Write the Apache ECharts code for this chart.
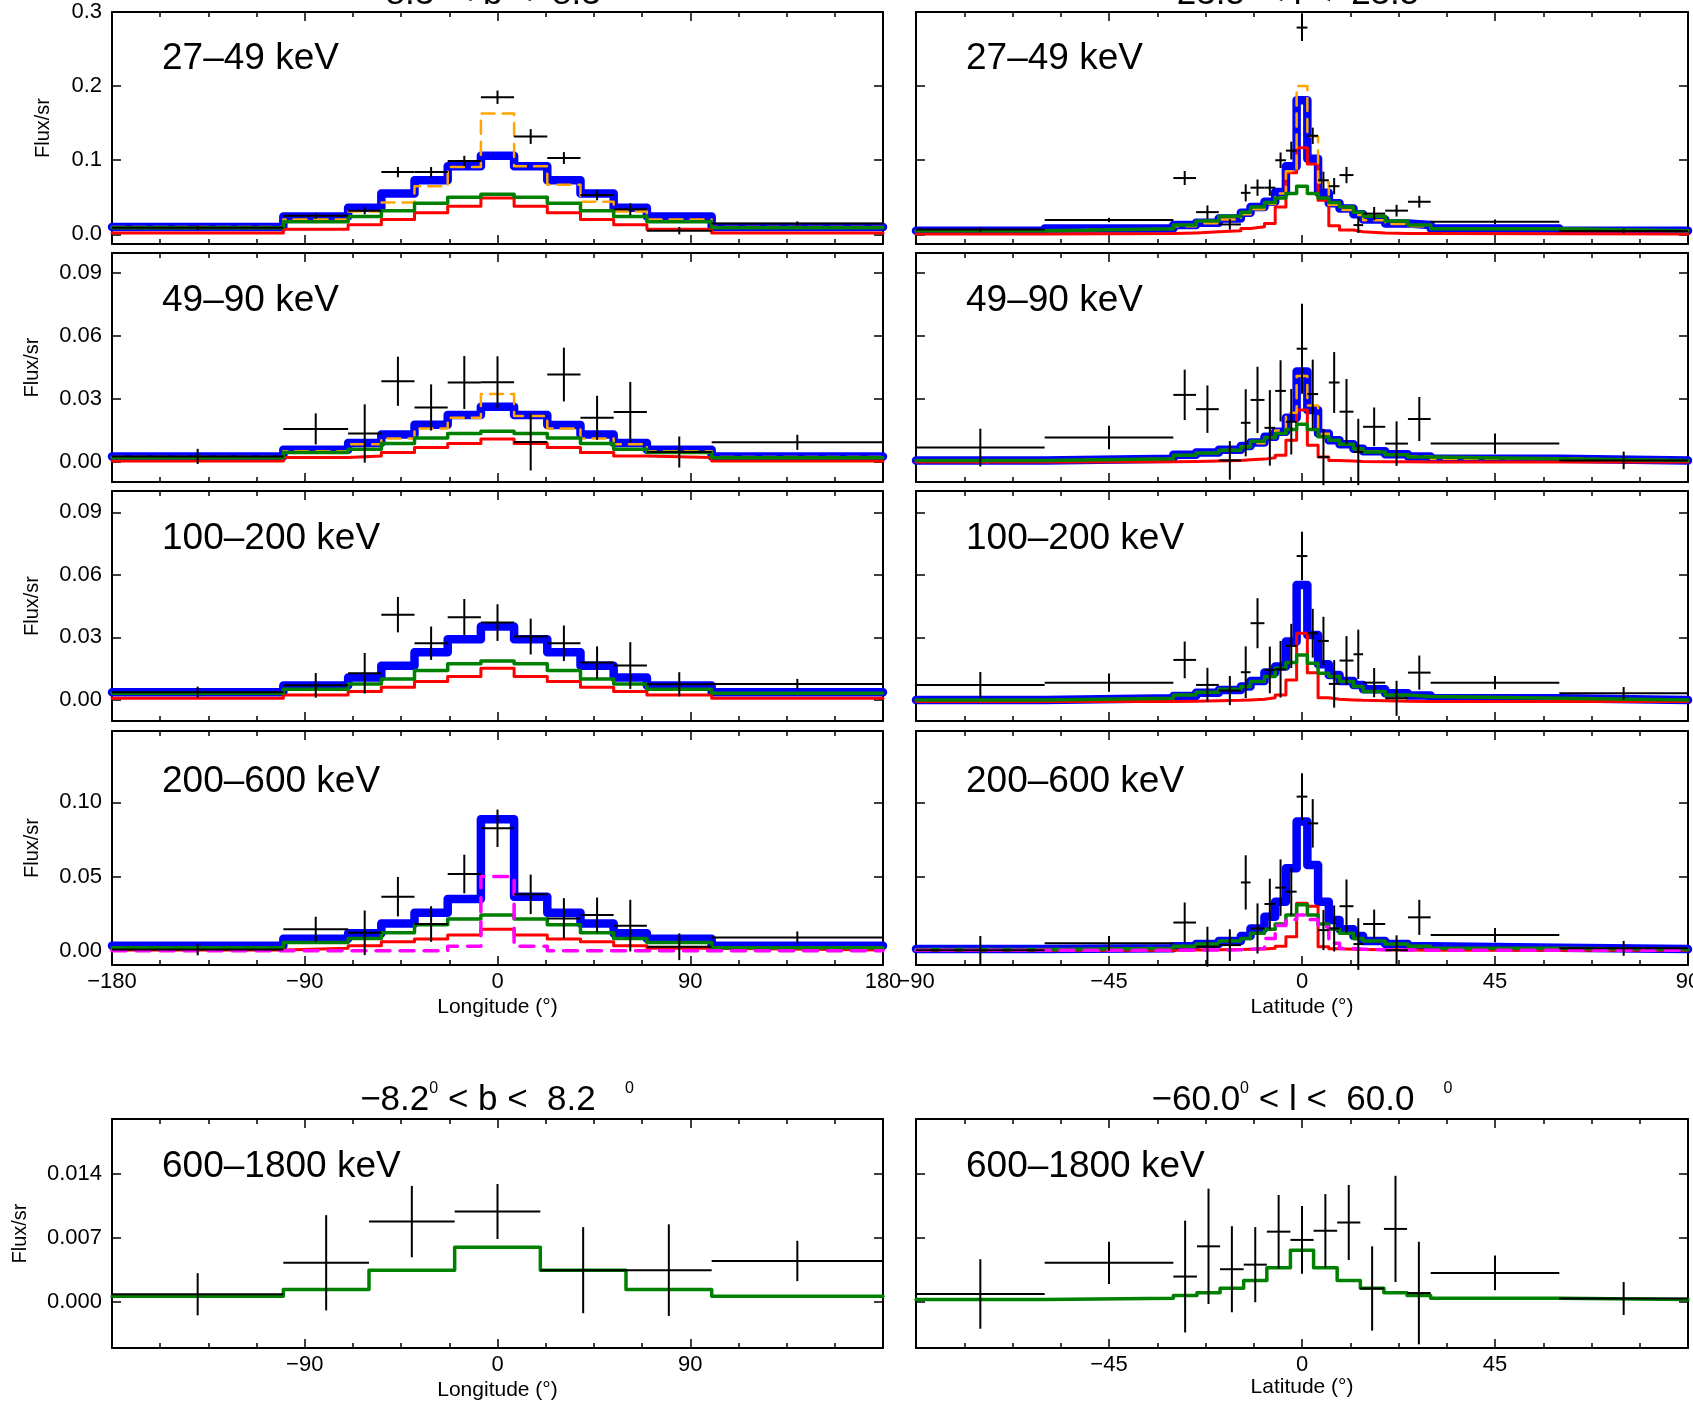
<!DOCTYPE html>
<html><head><meta charset="utf-8">
<script src="https://cdn.jsdelivr.net/npm/echarts@6/dist/echarts.min.js"></script>
<style>html,body{margin:0;padding:0;background:#fff}#c{width:1693px;height:1404px}</style>
</head><body><div id="c"></div>
<script>
// ---- bin edges ----
const lonEdges = [-180,-100,-69.75,-54.25,-38.75,-23.25,-7.75,7.75,23.25,38.75,54.25,69.75,100,180];
const latEdges = [-90,-60,-30,-24.7,-19.4,-14.25,-12,-8.75,-6.25,-3.75,-1.25,1.25,3.75,6.25,8.75,12,14.25,19.4,24.7,30,60,90];
const lonEdgesHi = [-180,-100,-60,-20,20,60,100,180];
const latEdgesHi = [-90,-60,-30,-24.5,-19.1,-13.6,-8.2,-2.7,2.7,8.2,13.6,19.1,24.5,30,60,90];

// ---- 27-49 keV, longitude ----
const lon27Total  = [0.010,0.024,0.036,0.055,0.073,0.092,0.106,0.092,0.073,0.055,0.036,0.024,0.010];
const lon27Orange = [0.010,0.020,0.031,0.043,0.065,0.091,0.163,0.092,0.067,0.044,0.031,0.020,0.010];
const lon27Green  = [0.009,0.017,0.024,0.032,0.042,0.050,0.054,0.050,0.042,0.032,0.024,0.017,0.009];
const lon27Red    = [0.002,0.007,0.013,0.020,0.029,0.038,0.049,0.038,0.029,0.020,0.013,0.007,0.002];
const lon27Flux   = [0.009,0.025,0.032,0.084,0.084,0.099,0.185,0.132,0.103,0.053,0.034,0.005,0.0145];
const lon27Err    = [0.003,0.004,0.005,0.007,0.007,0.007,0.009,0.010,0.008,0.007,0.008,0.005,0.003];
// ---- 49-90 keV, longitude ----
const lon49Total  = [0.0027,0.0059,0.0091,0.0131,0.0178,0.0224,0.0264,0.0224,0.0176,0.0131,0.0091,0.0059,0.0027];
const lon49Orange = [0.0024,0.0051,0.0085,0.0112,0.0160,0.0211,0.0324,0.0219,0.0160,0.0112,0.0085,0.0051,0.0024];
const lon49Green  = [0.0021,0.0045,0.0061,0.0088,0.0115,0.0136,0.0147,0.0136,0.0115,0.0088,0.0061,0.0045,0.0021];
const lon49Red    = [0.0005,0.0022,0.0029,0.0045,0.0069,0.0088,0.0110,0.0088,0.0069,0.0045,0.0029,0.0022,0.0005];
const lon49Flux   = [0.0027,0.0158,0.0136,0.0385,0.0260,0.0379,0.0380,0.0096,0.0417,0.0211,0.0238,0.0048,0.0094];
const lon49Err    = [0.0036,0.0074,0.0139,0.0117,0.0110,0.0126,0.0124,0.0136,0.0128,0.0105,0.0144,0.0074,0.0036];
// ---- 100-200 keV, longitude ----
const lon100Total = [0.0037,0.0069,0.0108,0.0164,0.0229,0.0291,0.0352,0.0291,0.0229,0.0164,0.0108,0.0069,0.0037];
const lon100Green = [0.0032,0.0051,0.0077,0.0101,0.0141,0.0173,0.0187,0.0173,0.0141,0.0101,0.0077,0.0051,0.0032];
const lon100Red   = [0.0008,0.0024,0.0040,0.0061,0.0089,0.0113,0.0152,0.0113,0.0089,0.0061,0.0040,0.0024,0.0008];
const lon100Flux  = [0.0037,0.0070,0.0128,0.0409,0.0272,0.0396,0.0371,0.0304,0.0272,0.0179,0.0165,0.0075,0.0077];
const lon100Err   = [0.0027,0.0059,0.0097,0.0085,0.0080,0.0088,0.0088,0.0086,0.0085,0.0078,0.0112,0.0058,0.0024];
// ---- 200-600 keV, longitude ----
const lon200Total = [0.0034,0.0080,0.0117,0.0184,0.0256,0.0348,0.0885,0.0364,0.0256,0.0184,0.0117,0.0080,0.0034];
const lon200Green = [0.0020,0.0055,0.0083,0.0122,0.0175,0.0213,0.0240,0.0213,0.0175,0.0122,0.0083,0.0055,0.0020];
const lon200Red   = [0.0005,0.0016,0.0034,0.0060,0.0079,0.0106,0.0144,0.0106,0.0079,0.0060,0.0034,0.0016,0.0005];
const lon200Magenta = [0,0,0,0,0,0.003,0.050,0.003,0,0,0,0,0];
const lon200Flux  = [0.0009,0.0144,0.0121,0.0364,0.0180,0.0517,0.0825,0.0380,0.0218,0.0240,0.0169,0.0027,0.0090];
const lon200Err   = [0.0040,0.0085,0.0150,0.0133,0.0120,0.0130,0.0126,0.0133,0.0136,0.0118,0.0174,0.0090,0.0040];
// ---- 600-1800 keV, longitude ----
const lon600Green = [0.00065,0.0014,0.0035,0.0060,0.0035,0.0014,0.00065];
const lon600Flux  = [0.00087,0.0043,0.0088,0.0099,0.0035,0.0035,0.0045];
const lon600Err   = [0.0023,0.0052,0.0039,0.0030,0.0047,0.0050,0.0022];

// ---- 27-49 keV, latitude ----
const lat27Total  = [0.005,0.008,0.0125,0.0157,0.0215,0.029,0.037,0.044,0.057,0.092,0.181,0.102,0.056,0.042,0.035,0.027,0.020,0.0148,0.0125,0.008,0.005];
const lat27Orange = [0.005,0.0075,0.011,0.015,0.020,0.027,0.034,0.041,0.055,0.085,0.200,0.132,0.070,0.040,0.033,0.026,0.019,0.014,0.011,0.0075,0.005];
const lat27Green  = [0.005,0.0075,0.0125,0.018,0.0246,0.030,0.037,0.043,0.049,0.055,0.065,0.055,0.049,0.043,0.037,0.030,0.0246,0.018,0.0125,0.0075,0.005];
const lat27Red    = [0.0005,0.001,0.002,0.0036,0.005,0.008,0.0103,0.0148,0.037,0.083,0.117,0.095,0.046,0.0116,0.006,0.0036,0.002,0.0013,0.001,0.0008,0.0005];
const lat27Flux   = [0.0065,0.0195,0.076,0.030,0.0134,0.056,0.063,0.063,0.100,0.113,0.279,0.133,0.073,0.065,0.080,0.0125,0.028,0.032,0.044,0.017,0.0045];
const lat27Err    = [0.003,0.003,0.0095,0.009,0.007,0.0116,0.011,0.011,0.0105,0.012,0.018,0.011,0.0116,0.011,0.011,0.0105,0.009,0.008,0.008,0.003,0.003];
// ---- 49-90 keV, latitude ----
const lat49Total  = [0.0008,0.0016,0.0035,0.0045,0.0059,0.0077,0.0093,0.0120,0.0144,0.0211,0.0431,0.0248,0.0136,0.0104,0.0085,0.0064,0.0051,0.0037,0.0027,0.0016,0.0008];
const lat49Orange = [0.0008,0.0016,0.0033,0.0043,0.0057,0.0074,0.0090,0.0115,0.0150,0.0235,0.0410,0.0270,0.0135,0.0102,0.0083,0.0062,0.0050,0.0036,0.0026,0.0016,0.0008];
const lat49Green  = [0.0008,0.0016,0.0032,0.0043,0.0056,0.0072,0.0099,0.0117,0.0136,0.0155,0.0180,0.0155,0.0120,0.0104,0.0085,0.0064,0.0048,0.0035,0.0024,0.0016,0.0008];
const lat49Red    = [0.0000,0.0002,0.0003,0.0005,0.0008,0.0011,0.0014,0.0020,0.0032,0.0104,0.0248,0.0080,0.0024,0.0008,0.0005,0.0003,0.0002,0.0001,0.0000,0.0000,0.0000];
const lat49Flux   = [0.0069,0.0117,0.0320,0.0252,0.0008,0.0187,0.0296,0.0163,0.0339,0.0192,0.0540,0.0324,0.0024,0.0379,0.0240,0.0048,0.0168,0.0088,0.0205,0.0088,0.0008];
const lat49Err    = [0.0090,0.0056,0.0120,0.0113,0.0092,0.0160,0.0158,0.0180,0.0146,0.0156,0.0214,0.0164,0.0134,0.0145,0.0156,0.0158,0.0092,0.0106,0.0105,0.0048,0.0042];
// ---- 100-200 keV, latitude ----
const lat100Total = [0.0000,0.0008,0.0019,0.0035,0.0048,0.0064,0.0091,0.0131,0.0160,0.0280,0.0551,0.0312,0.0171,0.0120,0.0091,0.0072,0.0051,0.0032,0.0021,0.0008,0.0000];
const lat100Green = [0.0000,0.0008,0.0024,0.0037,0.0051,0.0064,0.0088,0.0112,0.0152,0.0179,0.0216,0.0176,0.0128,0.0112,0.0088,0.0064,0.0040,0.0024,0.0016,0.0008,0.0000];
const lat100Red   = [-0.0008,-0.0008,-0.0006,-0.0004,-0.0002,0.0000,0.0003,0.0010,0.0024,0.0096,0.0320,0.0130,0.0010,0.0003,0.0000,-0.0002,-0.0004,-0.0006,-0.0008,-0.0008,-0.0008];
const lat100Flux  = [0.0072,0.0083,0.0192,0.0072,0.0045,0.0133,0.0368,0.0144,0.0147,0.0259,0.0690,0.0320,0.0283,0.0077,0.0189,0.0219,0.0083,0.0008,0.0131,0.0083,0.0032];
const lat100Err   = [0.0062,0.0044,0.0088,0.0082,0.0070,0.0124,0.0120,0.0112,0.0136,0.0106,0.0116,0.0117,0.0116,0.0114,0.0117,0.0118,0.0070,0.0084,0.0082,0.0032,0.0030];
// ---- 200-600 keV, latitude ----
const lat200Total = [0.0011,0.0016,0.0031,0.0045,0.0065,0.0099,0.0150,0.0229,0.0330,0.0555,0.0870,0.0577,0.0330,0.0207,0.0144,0.0099,0.0065,0.0045,0.0031,0.0020,0.0011];
const lat200Green = [0.0009,0.0016,0.0031,0.0045,0.0065,0.0083,0.0117,0.0144,0.0180,0.0240,0.0310,0.0240,0.0180,0.0144,0.0117,0.0083,0.0065,0.0045,0.0031,0.0016,0.0009];
const lat200Red   = [0.0003,0.0004,0.0005,0.0006,0.0008,0.0010,0.0012,0.0016,0.0031,0.0094,0.0320,0.0300,0.0027,0.0013,0.0010,0.0008,0.0006,0.0005,0.0004,0.0004,0.0003];
const lat200Magenta = [0.0003,0.0003,0.0004,0.0005,0.0007,0.0010,0.0015,0.0083,0.0170,0.0210,0.0240,0.0210,0.0160,0.0050,0.0015,0.0010,0.0007,0.0005,0.0004,0.0003,0.0003];
const lat200Flux  = [0.0004,0.0050,0.0190,0.0027,0.0038,0.0460,0.0150,0.0315,0.0425,0.0398,0.1038,0.0858,0.0139,0.0150,0.0300,0.0045,0.0180,0.0004,0.0225,0.0106,0.0016];
const lat200Err   = [0.0095,0.0050,0.0135,0.0135,0.0107,0.0183,0.0169,0.0170,0.0190,0.0160,0.0157,0.0163,0.0135,0.0155,0.0180,0.0174,0.0097,0.0100,0.0118,0.0048,0.0050];
// ---- 600-1800 keV, latitude ----
const lat600Green = [0.0003,0.00044,0.00073,0.00102,0.00153,0.00236,0.00375,0.00567,0.00375,0.00236,0.00153,0.00102,0.00073,0.00044,0.0003];
const lat600Flux  = [0.0009,0.0043,0.0028,0.0061,0.0036,0.0041,0.0077,0.0068,0.0078,0.0087,0.0015,0.0080,0.0010,0.0032,0.0004];
const lat600Err   = [0.0038,0.0023,0.0061,0.0063,0.0047,0.0041,0.0040,0.0037,0.0040,0.0041,0.0046,0.0058,0.0056,0.0019,0.0018];

// ---- tick labels ----
const yTicks = [[0,0.1,0.2,0.3],[0,0.03,0.06,0.09],[0,0.03,0.06,0.09],[0,0.05,0.10],[0,0.007,0.014]];
const yDecimals = [1,2,2,2,3];
const yRanges = [[-0.013,0.3],[-0.0095,0.0996],[-0.0101,0.1002],[-0.0096,0.148],[-0.005,0.020]];
const bandLabels = ['27–49 keV','49–90 keV','100–200 keV','200–600 keV','600–1800 keV'];

// ---- layout ----
const FONT = 'Liberation Sans, Arial, Helvetica, sans-serif';
const rowTop = [12,253,491,731,1119];
const rowH = [232,229,230,234,229];
const colLeft = [112,916];
const colW = [771,772];
const nameGaps = [59,70,70,70,82];
const labelOffsets = [47,48,48,51,48];

const panels = [
  {col:0,row:0,edges:lonEdges,total:lon27Total,orange:lon27Orange,green:lon27Green,red:lon27Red,flux:lon27Flux,err:lon27Err},
  {col:0,row:1,edges:lonEdges,total:lon49Total,orange:lon49Orange,green:lon49Green,red:lon49Red,flux:lon49Flux,err:lon49Err},
  {col:0,row:2,edges:lonEdges,total:lon100Total,green:lon100Green,red:lon100Red,flux:lon100Flux,err:lon100Err},
  {col:0,row:3,edges:lonEdges,total:lon200Total,green:lon200Green,red:lon200Red,magenta:lon200Magenta,flux:lon200Flux,err:lon200Err},
  {col:0,row:4,edges:lonEdgesHi,green:lon600Green,flux:lon600Flux,err:lon600Err},
  {col:1,row:0,edges:latEdges,total:lat27Total,orange:lat27Orange,green:lat27Green,red:lat27Red,flux:lat27Flux,err:lat27Err},
  {col:1,row:1,edges:latEdges,total:lat49Total,orange:lat49Orange,green:lat49Green,red:lat49Red,flux:lat49Flux,err:lat49Err},
  {col:1,row:2,edges:latEdges,total:lat100Total,green:lat100Green,red:lat100Red,flux:lat100Flux,err:lat100Err},
  {col:1,row:3,edges:latEdges,total:lat200Total,green:lat200Green,red:lat200Red,magenta:lat200Magenta,flux:lat200Flux,err:lat200Err},
  {col:1,row:4,edges:latEdgesHi,green:lat600Green,flux:lat600Flux,err:lat600Err}
];

function stepData(edges, vals){
  const d = vals.map((v,i)=>[edges[i], v]);
  d.push([edges[edges.length-1], vals[vals.length-1]]);
  return d;
}
function crossData(edges, flux, err){
  return flux.map((v,i)=>[(edges[i]+edges[i+1])/2, v, (edges[i+1]-edges[i])/2, err[i]]);
}
function fmtNum(v){ return v < 0 ? '\u2212' + Math.abs(v) : String(v); }

const option = {animation:false, backgroundColor:'#ffffff', grid:[], xAxis:[], yAxis:[], series:[], graphic:[]};
const axisLineStyle = {show:true, onZero:false, lineStyle:{color:'#000', width:2}};

panels.forEach((p, i) => {
  option.grid.push({left:colLeft[p.col], top:rowTop[p.row], width:colW[p.col], height:rowH[p.row], containLabel:false, outerBoundsMode:'none'});
  const xr = p.col === 0 ? {min:-180, max:180, interval:90} : {min:-90, max:90, interval:45};
  const showX = p.row >= 3;
  const xCommon = {type:'value', gridIndex:i, min:xr.min, max:xr.max, interval:xr.interval,
    splitLine:{show:false}, axisLine:axisLineStyle,
    axisTick:{show:true, inside:true, length:9, lineStyle:{color:'#000', width:1.5}},
    minorTick:{show:true, splitNumber:4, length:5, lineStyle:{color:'#000', width:1.5}},
    minorSplitLine:{show:false}};
  const isLast = p.row === 4;
  option.xAxis.push(Object.assign({}, xCommon, {position:'bottom',
    axisLabel:{show:showX, margin:6, fontSize:22, color:'#000', fontFamily:FONT,
      formatter:(v)=> (isLast && (v===xr.min || v===xr.max)) ? '' : fmtNum(v)},
    name: showX ? (p.col===0 ? 'Longitude (°)' : 'Latitude (°)') : '',
    nameLocation:'middle', nameGap: (isLast && p.col===1) ? 29 : 32,
    nameTextStyle:{fontSize:21, color:'#000', fontFamily:FONT}}));
  option.xAxis.push(Object.assign({}, xCommon, {position:'top', axisLabel:{show:false}}));
  const yr = yRanges[p.row], yt = yTicks[p.row], dec = yDecimals[p.row];
  const yCommon = {type:'value', gridIndex:i, min:yr[0], max:yr[1], splitLine:{show:false},
    axisLine:axisLineStyle,
    axisTick:{show:true, inside:true, length:9, customValues:yt, lineStyle:{color:'#000', width:1.5}}};
  option.yAxis.push(Object.assign({}, yCommon, {position:'left',
    axisLabel:{show:p.col===0, customValues:yt, margin:10, fontSize:22, color:'#000', fontFamily:FONT,
      formatter:(v)=>v.toFixed(dec)},
    name: p.col===0 ? 'Flux/sr' : '', nameLocation:'middle', nameGap:nameGaps[p.row],
    nameTextStyle:{fontSize:20, color:'#000', fontFamily:FONT}}));
  option.yAxis.push(Object.assign({}, yCommon, {position:'right', axisLabel:{show:false}}));

  const xi = 2*i, yi = 2*i;
  const addStep = (vals, color, width, z, dash) => {
    if (!vals) return;
    option.series.push({type:'line', xAxisIndex:xi, yAxisIndex:yi, data:stepData(p.edges, vals), step:'end',
      symbol:'none', showSymbol:false, clip:false, z:z, silent:true,
      lineStyle:{color:color, width:width, type: dash || 'solid', cap:'round', join:'round'}});
  };
  addStep(p.total, '#0000ff', 8.5, 2);
  addStep(p.red, '#ff0000', 3, 3);
  addStep(p.orange, '#ffa500', 2.5, 4, [13,8]);
  addStep(p.green, '#008000', 3.5, 5);
  addStep(p.magenta, '#ff00ff', 3.5, 6, [14,10]);
  option.series.push({type:'custom', xAxisIndex:xi, yAxisIndex:yi, z:7, clip:false, silent:true,
    encode:{x:0, y:1},
    data:crossData(p.edges, p.flux, p.err),
    renderItem:(params, api) => {
      const x = api.value(0), y = api.value(1), ex = api.value(2), ey = api.value(3);
      const l = api.coord([x-ex, y]), r = api.coord([x+ex, y]);
      const t = api.coord([x, y+ey]), b = api.coord([x, y-ey]);
      return {type:'group', children:[
        {type:'line', shape:{x1:l[0], y1:l[1], x2:r[0], y2:r[1]}, style:{stroke:'#000', lineWidth:2}},
        {type:'line', shape:{x1:t[0], y1:t[1], x2:b[0], y2:b[1]}, style:{stroke:'#000', lineWidth:2}}
      ]};
    }});

  // energy band label
  option.graphic.push({type:'text', x:colLeft[p.col] + 50, y:rowTop[p.row] + labelOffsets[p.row], z:100,
    style:{text:bandLabels[p.row], fontSize:37, fontFamily:FONT, fill:'#000', align:'left', verticalAlign:'middle'}});
});

// region titles
const titleRich = {a:{fontSize:35, fontFamily:FONT, fill:'#000', lineHeight:38},
                   s:{fontSize:16, fontFamily:FONT, fill:'#000', lineHeight:18, verticalAlign:'top'}};
const titles = [
  {x:497, y:-6, text:'{a|\u22128.3}{s|0}{a| < b <  8.3  }{s|0}'},
  {x:1302, y:-6, text:'{a|\u221223.5}{s|0}{a| < l <  23.5  }{s|0}'},
  {x:497, y:1100, text:'{a|\u22128.2}{s|0}{a| < b <  8.2   }{s|0}'},
  {x:1302, y:1100, text:'{a|\u221260.0}{s|0}{a| < l <  60.0   }{s|0}'}
];
titles.forEach(t => option.graphic.push({type:'text', x:t.x, y:t.y, z:100,
  style:{text:t.text, rich:titleRich, align:'center', verticalAlign:'middle', fill:'#000', fontFamily:FONT, fontSize:35}}));

const chart = echarts.init(document.getElementById('c'), null, {renderer:'canvas', width:1693, height:1404});
chart.setOption(option);
</script>
</body></html>
